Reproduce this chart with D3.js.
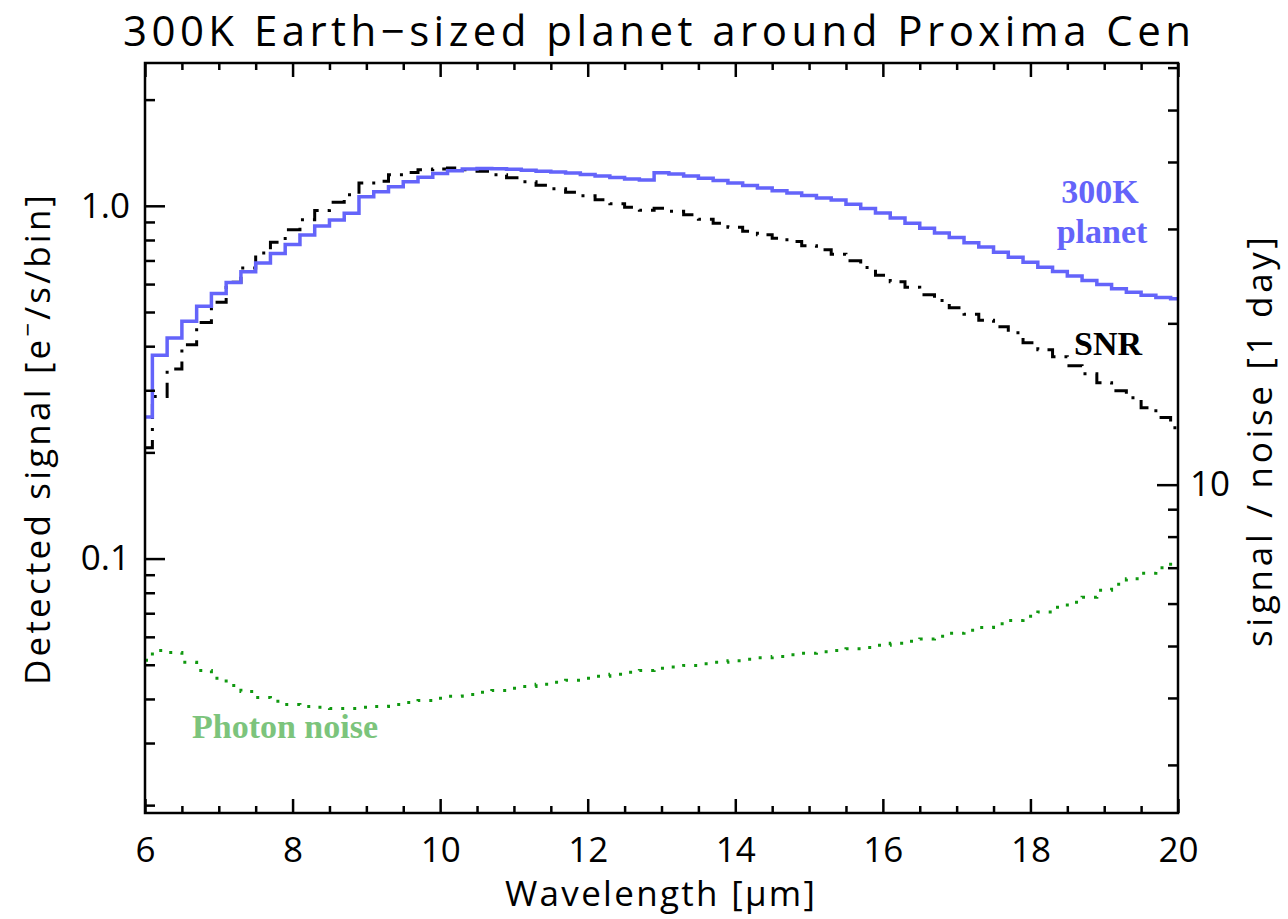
<!DOCTYPE html>
<html>
<head>
<meta charset="utf-8">
<script src="https://cdn.jsdelivr.net/npm/d3@7"></script>
<style>
  html, body { margin: 0; padding: 0; background: #ffffff; }
  svg { display: block; }
</style>
</head>
<body>
<svg id="chart" width="1288" height="919"></svg>
<script>
// Wavelength bin centres [micron]
const wavelength = [
  6.0, 6.2, 6.4, 6.6, 6.8, 7.0, 7.2, 7.4, 7.6, 7.8,
  8.0, 8.2, 8.4, 8.6, 8.8, 9.0, 9.2, 9.4, 9.6, 9.8,
  10.0, 10.2, 10.4, 10.6, 10.8, 11.0, 11.2, 11.4, 11.6, 11.8,
  12.0, 12.2, 12.4, 12.6, 12.8, 13.0, 13.2, 13.4, 13.6, 13.8,
  14.0, 14.2, 14.4, 14.6, 14.8, 15.0, 15.2, 15.4, 15.6, 15.8,
  16.0, 16.2, 16.4, 16.6, 16.8, 17.0, 17.2, 17.4, 17.6, 17.8,
  18.0, 18.2, 18.4, 18.6, 18.8, 19.0, 19.2, 19.4, 19.6, 19.8,
  20.0
];

// Detected planet signal [e-/s/bin]
const planetSignal = [
  0.252, 0.377, 0.422, 0.471, 0.519, 0.564, 0.606, 0.650, 0.689, 0.733,
  0.777, 0.826, 0.876, 0.911, 0.952, 1.061, 1.096, 1.132, 1.170, 1.204,
  1.235, 1.257, 1.271, 1.275, 1.273, 1.269, 1.262, 1.254, 1.246, 1.238,
  1.226, 1.214, 1.202, 1.191, 1.183, 1.241, 1.230, 1.214, 1.198, 1.179,
  1.160, 1.141, 1.123, 1.104, 1.087, 1.069, 1.052, 1.038, 1.011, 0.983,
  0.954, 0.923, 0.893, 0.864, 0.837, 0.813, 0.786, 0.764, 0.739, 0.715,
  0.692, 0.670, 0.651, 0.632, 0.614, 0.598, 0.582, 0.569, 0.558, 0.550,
  0.545
];

// Signal-to-noise ratio reached in one day
const snrPerDay = [
  11.72, 14.61, 16.44, 18.25, 20.08, 21.89, 23.85, 25.37, 27.06, 28.33,
  29.91, 31.22, 32.49, 33.63, 34.75, 36.55, 36.81, 37.88, 38.25, 38.70,
  38.82, 38.99, 38.70, 38.45, 37.88, 37.39, 36.75, 36.20, 35.66, 35.13,
  34.61, 34.01, 33.44, 32.94, 32.52, 32.80, 32.38, 31.89, 31.28, 30.75,
  30.23, 29.72, 29.27, 28.84, 28.41, 27.92, 27.45, 26.92, 26.18, 25.41,
  24.60, 23.92, 23.36, 22.62, 22.05, 21.39, 20.80, 20.27, 19.71, 19.21,
  18.40, 17.86, 17.33, 16.67, 16.11, 15.50, 14.97, 14.53, 13.92, 13.34,
  12.77
];

// Photon noise [e-/s/bin]
const photonNoise = [
  0.0515, 0.0549, 0.0542, 0.0508, 0.0482, 0.0458, 0.0437, 0.0420, 0.0404, 0.0394,
  0.0386, 0.0381, 0.0379, 0.0376, 0.0376, 0.0379, 0.0381, 0.0386, 0.0391, 0.0396,
  0.0402, 0.0407, 0.0412, 0.0418, 0.0423, 0.0429, 0.0434, 0.0440, 0.0446, 0.0452,
  0.0458, 0.0464, 0.0470, 0.0476, 0.0482, 0.0489, 0.0493, 0.0498, 0.0503, 0.0508,
  0.0513, 0.0518, 0.0523, 0.0528, 0.0534, 0.0539, 0.0544, 0.0549, 0.0555, 0.0560,
  0.0568, 0.0575, 0.0583, 0.0592, 0.0602, 0.0614, 0.0626, 0.0638, 0.0653, 0.0668,
  0.0686, 0.0706, 0.0728, 0.0752, 0.0777, 0.0813, 0.0845, 0.0876, 0.0908, 0.0942,
  0.0989
];

// Tick values and labels
const xMajorTicks = [6, 8, 10, 12, 14, 16, 18, 20];
const xMinorTicks = [6.5, 7, 7.5, 8.5, 9, 9.5, 10.5, 11, 11.5, 12.5, 13, 13.5,
                     14.5, 15, 15.5, 16.5, 17, 17.5, 18.5, 19, 19.5];
const leftMajorTicks = [0.1, 1.0];
const leftMajorLabels = ["0.1", "1.0"];
const leftMinorTicks = [0.02, 0.03, 0.04, 0.05, 0.06, 0.07, 0.08, 0.09,
                        0.2, 0.3, 0.4, 0.5, 0.6, 0.7, 0.8, 0.9, 2];
const rightMajorTicks = [10];
const rightMinorTicks = [3, 4, 5, 6, 7, 8, 9, 20, 30, 40, 50, 60];

const titleText = "300K Earth\u2212sized planet around Proxima Cen";
const xLabelText = "Wavelength [\u03bcm]";
const rightLabelText = "signal / noise [1 day]";

// Layout
const W = 1288, H = 919;
const plot = { left: 145, right: 1178, top: 63, bottom: 813 };
const axisFont = "'Open Sans', 'DejaVu Sans', sans-serif";
const serifFont = "'Liberation Serif', 'DejaVu Serif', serif";
const planetColor = "#6464fa";
const noiseColor = "#0f980f";
const noiseLabelColor = "#7cc47c";

const svg = d3.select("#chart");
svg.append("rect").attr("width", W).attr("height", H).attr("fill", "#ffffff");

const x = d3.scaleLinear().domain([6, 20]).range([plot.left, plot.right]);
const yLeft = d3.scaleLog().domain([0.019, 2.54]).range([plot.bottom, plot.top]);
const yRight = d3.scaleLog().domain([2.44, 61.2]).range([plot.bottom, plot.top]);

const data = wavelength.map((w, i) => ({
  w, planet: planetSignal[i], snr: snrPerDay[i], noise: photonNoise[i]
}));

// Curves (histogram-style steps)
const planetLine = d3.line().x(d => x(d.w)).y(d => yLeft(d.planet)).curve(d3.curveStep);
const snrLine = d3.line().x(d => x(d.w)).y(d => yRight(d.snr)).curve(d3.curveStep);
const noiseLine = d3.line().x(d => x(d.w)).y(d => yLeft(d.noise)).curve(d3.curveStep);

svg.append("path").datum(data).attr("d", noiseLine)
  .attr("fill", "none").attr("stroke", noiseColor).attr("stroke-width", 3)
  .attr("stroke-dasharray", "3,9");

svg.append("path").datum(data).attr("d", snrLine)
  .attr("fill", "none").attr("stroke", "#000").attr("stroke-width", 3)
  .attr("stroke-dasharray", "15,9,3,9");

svg.append("path").datum(data).attr("d", planetLine)
  .attr("fill", "none").attr("stroke", planetColor).attr("stroke-width", 3.5);

// Axes
function styleAxis(g) {
  g.select(".domain").remove();
  g.selectAll(".tick line").attr("stroke", "#000").attr("stroke-width", 2.5);
  g.selectAll("text").attr("fill", "#000").attr("font-family", axisFont).attr("font-size", 35);
}

svg.append("g").attr("transform", `translate(0,${plot.bottom})`)
  .call(d3.axisBottom(x).tickValues(xMinorTicks).tickSize(-7).tickFormat(""))
  .call(styleAxis);
svg.append("g").attr("transform", `translate(0,${plot.bottom})`)
  .call(d3.axisBottom(x).tickValues(xMajorTicks).tickSize(-14).tickPadding(24).tickFormat(d3.format("d")))
  .call(styleAxis);
svg.append("g").attr("transform", `translate(0,${plot.top})`)
  .call(d3.axisTop(x).tickValues(xMinorTicks).tickSize(-7).tickFormat(""))
  .call(styleAxis);
svg.append("g").attr("transform", `translate(0,${plot.top})`)
  .call(d3.axisTop(x).tickValues(xMajorTicks).tickSize(-14).tickFormat(""))
  .call(styleAxis);

svg.append("g").attr("transform", `translate(${plot.left},0)`)
  .call(d3.axisLeft(yLeft).tickValues(leftMinorTicks).tickSize(-10).tickFormat(""))
  .call(styleAxis);
svg.append("g").attr("transform", `translate(${plot.left},0)`)
  .call(d3.axisLeft(yLeft).tickValues(leftMajorTicks).tickSize(-20).tickPadding(15)
    .tickFormat((d, i) => leftMajorLabels[i]))
  .call(styleAxis);

svg.append("g").attr("transform", `translate(${plot.right},0)`)
  .call(d3.axisRight(yRight).tickValues(rightMinorTicks).tickSize(-10).tickFormat(""))
  .call(styleAxis);
svg.append("g").attr("transform", `translate(${plot.right},0)`)
  .call(d3.axisRight(yRight).tickValues(rightMajorTicks).tickSize(-21).tickPadding(12).tickFormat(d3.format("d")))
  .call(styleAxis);

// Plot frame
svg.append("rect")
  .attr("x", plot.left).attr("y", plot.top)
  .attr("width", plot.right - plot.left).attr("height", plot.bottom - plot.top)
  .attr("fill", "none").attr("stroke", "#000").attr("stroke-width", 2.5);

// Title and axis titles
svg.append("text").attr("x", 657).attr("y", 46).attr("text-anchor", "middle")
  .attr("font-family", axisFont).attr("font-size", 42)
  .attr("textLength", 1068).attr("lengthAdjust", "spacing")
  .text(titleText);

svg.append("text").attr("x", 660).attr("y", 906).attr("text-anchor", "middle")
  .attr("font-family", axisFont).attr("font-size", 35)
  .attr("textLength", 310).attr("lengthAdjust", "spacing")
  .text(xLabelText);

const leftLabel = svg.append("text")
  .attr("transform", "translate(50,440) rotate(-90)")
  .attr("text-anchor", "middle")
  .attr("font-family", axisFont).attr("font-size", 35)
  .attr("textLength", 490).attr("lengthAdjust", "spacing");
leftLabel.append("tspan").text("Detected signal [e");
leftLabel.append("tspan").attr("dy", -14).attr("font-size", 24).text("\u2212");
leftLabel.append("tspan").attr("dy", 14).text("/s/bin]");

svg.append("text")
  .attr("transform", "translate(1272,442) rotate(-90)")
  .attr("text-anchor", "middle")
  .attr("font-family", axisFont).attr("font-size", 35)
  .attr("textLength", 410).attr("lengthAdjust", "spacing")
  .text(rightLabelText);

// Curve annotations
const notes = [
  { text: "300K", x: 1100, y: 203, color: planetColor },
  { text: "planet", x: 1102, y: 243, color: planetColor },
  { text: "SNR", x: 1108, y: 355, color: "#000" },
  { text: "Photon noise", x: 285, y: 738, color: noiseLabelColor }
];
svg.selectAll("text.note").data(notes).join("text")
  .attr("class", "note")
  .attr("x", d => d.x).attr("y", d => d.y)
  .attr("text-anchor", "middle")
  .attr("font-family", serifFont).attr("font-weight", "bold").attr("font-size", 34)
  .attr("fill", d => d.color)
  .text(d => d.text);
</script>
</body>
</html>
